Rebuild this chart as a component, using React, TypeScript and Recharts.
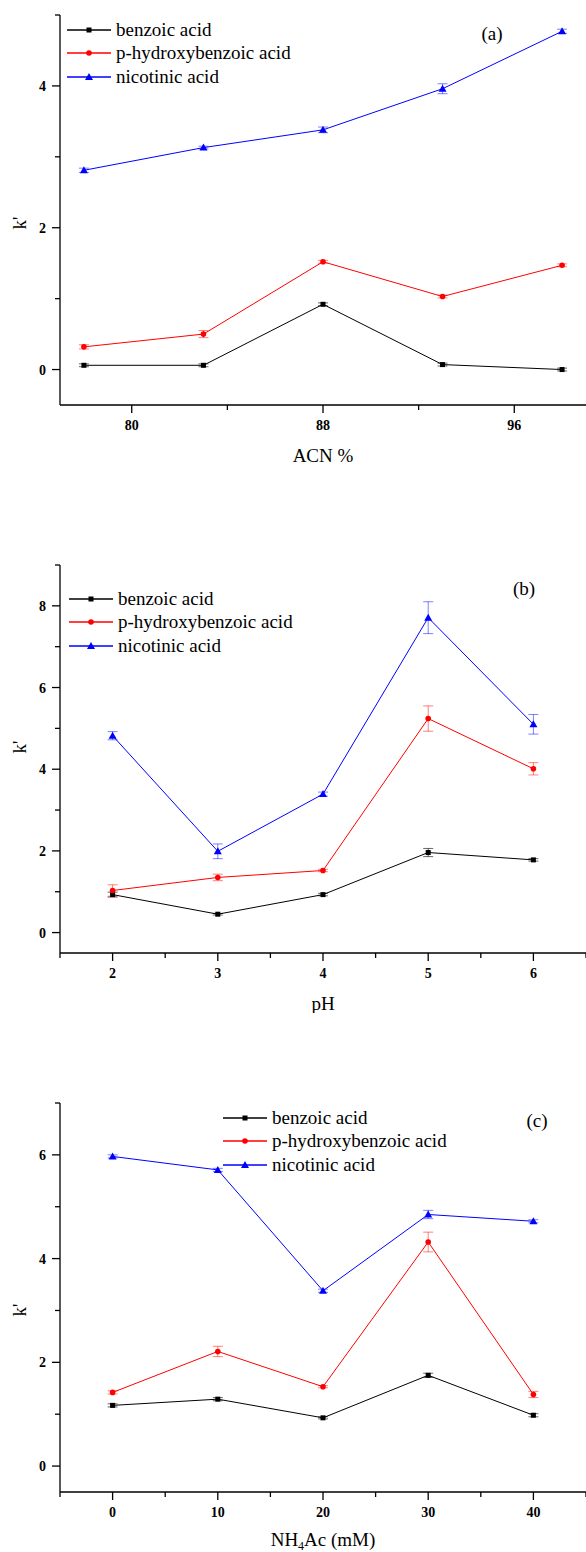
import React from "react";
import { LineChart, Line, XAxis, YAxis, ErrorBar, Legend } from "recharts";

const FONT = "Liberation Serif, Times New Roman, Times, DejaVu Serif, serif";

const SERIES_NAMES = ["benzoic acid", "p-hydroxybenzoic acid", "nicotinic acid"];
const SERIES_COLORS = ["#000000", "#ff0000", "#0000ff"];
const ERR_COLORS = ["rgba(0,0,0,0.6)", "rgba(255,0,0,0.5)", "rgba(0,0,255,0.5)"];
const SERIES_SHAPES = ["square", "circle", "triangle"];

// (a) ACN %
const acn = [78, 83, 88, 93, 98];
const acnBenzoic = [0.06, 0.06, 0.92, 0.07, 0.0];
const acnBenzoicErr = [0.02, 0.02, 0.02, 0.02, 0.02];
const acnHydroxy = [0.32, 0.5, 1.52, 1.03, 1.47];
const acnHydroxyErr = [0.03, 0.05, 0.02, 0.02, 0.02];
const acnNicotinic = [2.81, 3.13, 3.38, 3.96, 4.77];
const acnNicotinicErr = [0.03, 0.02, 0.04, 0.07, 0.03];

// (b) pH
const ph = [2, 3, 4, 5, 6];
const phBenzoic = [0.93, 0.45, 0.93, 1.96, 1.78];
const phBenzoicErr = [0.06, 0.02, 0.03, 0.1, 0.03];
const phHydroxy = [1.03, 1.35, 1.52, 5.24, 4.01];
const phHydroxyErr = [0.14, 0.08, 0.03, 0.31, 0.15];
const phNicotinic = [4.82, 1.99, 3.39, 7.71, 5.1];
const phNicotinicErr = [0.1, 0.18, 0.05, 0.39, 0.24];

// (c) NH4Ac (mM)
const nh4ac = [0, 10, 20, 30, 40];
const nhBenzoic = [1.17, 1.29, 0.93, 1.75, 0.98];
const nhBenzoicErr = [0.03, 0.03, 0.02, 0.04, 0.03];
const nhHydroxy = [1.42, 2.21, 1.53, 4.32, 1.38];
const nhHydroxyErr = [0.03, 0.1, 0.02, 0.19, 0.06];
const nhNicotinic = [5.97, 5.71, 3.38, 4.85, 4.72];
const nhNicotinicErr = [0.03, 0.03, 0.03, 0.08, 0.03];

// axis ticks
const acnTicks = [80, 84, 88, 92, 96];
const acnMajor = [80, 88, 96];
const acnYTicks = [0, 1, 2, 3, 4, 5];
const acnYMajor = [0, 2, 4];

const phTicks = [1.5, 2, 2.5, 3, 3.5, 4, 4.5, 5, 5.5, 6, 6.5];
const phMajor = [2, 3, 4, 5, 6];
const phYTicks = [0, 1, 2, 3, 4, 5, 6, 7, 8, 9];
const phYMajor = [0, 2, 4, 6, 8];

const nhTicks = [-5, 0, 5, 10, 15, 20, 25, 30, 35, 40, 45];
const nhMajor = [0, 10, 20, 30, 40];
const nhYTicks = [0, 1, 2, 3, 4, 5, 6, 7];
const nhYMajor = [0, 2, 4, 6];

function buildRows(xs, b, be, h, he, n, ne) {
  return xs.map((x, i) => ({
    x,
    s0: b[i], s0e: be[i],
    s1: h[i], s1e: he[i],
    s2: n[i], s2e: ne[i],
  }));
}

const acnRows = buildRows(acn, acnBenzoic, acnBenzoicErr, acnHydroxy, acnHydroxyErr, acnNicotinic, acnNicotinicErr);
const phRows = buildRows(ph, phBenzoic, phBenzoicErr, phHydroxy, phHydroxyErr, phNicotinic, phNicotinicErr);
const nhRows = buildRows(nh4ac, nhBenzoic, nhBenzoicErr, nhHydroxy, nhHydroxyErr, nhNicotinic, nhNicotinicErr);

function Marker({ shape, cx, cy, color }) {
  if (shape === "square") {
    return <rect x={cx - 2.5} y={cy - 2.5} width={5} height={5} fill={color} />;
  }
  if (shape === "circle") {
    return <circle cx={cx} cy={cy} r={2.8} fill={color} />;
  }
  return (
    <polygon
      points={`${cx},${cy - 4} ${cx - 4},${cy + 3} ${cx + 4},${cy + 3}`}
      fill={color}
    />
  );
}

const renderLegend = () => (
  <div style={{ fontFamily: FONT, fontSize: 19, color: "#000" }}>
    {SERIES_NAMES.map((name, i) => (
      <div
        key={name}
        style={{ display: "flex", alignItems: "center", height: 23.5, whiteSpace: "nowrap" }}
      >
        <svg width={44} height={12} style={{ display: "block" }}>
          <line x1={0} x2={44} y1={6} y2={6} stroke={SERIES_COLORS[i]} strokeWidth={1.3} />
          <Marker shape={SERIES_SHAPES[i]} cx={22} cy={6} color={SERIES_COLORS[i]} />
        </svg>
        <span style={{ marginLeft: 5, fontFamily: FONT }}>{name}</span>
      </div>
    ))}
  </div>
);

function Panel({
  top, height, marginTop, rows, xDomain, xTicks, xMajor, yDomain, yTicks, yMajor,
  xTitle, titleDy, kY, tag, tagX, tagY, legendLeft, legendTop,
}) {
  const xTick = (p) => {
    const major = xMajor.includes(p.payload.value);
    return (
      <g>
        <line x1={p.x} x2={p.x} y1={p.y} y2={p.y + (major ? 8 : 5)} stroke="#000" strokeWidth={1.3} />
        {major && (
          <text x={p.x} y={p.y + 25} textAnchor="middle" fontFamily={FONT} fontWeight="bold" fontSize={14} fill="#000">
            {p.payload.value}
          </text>
        )}
      </g>
    );
  };
  const yTick = (p) => {
    const major = yMajor.includes(p.payload.value);
    return (
      <g>
        <line x1={p.x - (major ? 8 : 5)} x2={p.x} y1={p.y} y2={p.y} stroke="#000" strokeWidth={1.3} />
        {major && (
          <text x={p.x - 14} y={p.y + 5} textAnchor="end" fontFamily={FONT} fontWeight="bold" fontSize={14} fill="#000">
            {p.payload.value}
          </text>
        )}
      </g>
    );
  };
  const axisBottom = height - 60;

  return (
    <div style={{ position: "absolute", left: 0, top, width: 586, height }}>
      <LineChart
        width={586}
        height={height}
        data={rows}
        margin={{ top: marginTop, right: 0, bottom: 0, left: 0 }}
      >
        <XAxis
          dataKey="x"
          type="number"
          domain={xDomain}
          ticks={xTicks}
          interval={0}
          height={60}
          tickSize={0}
          tickMargin={0}
          tick={xTick}
          axisLine={{ stroke: "#000", strokeWidth: 1.3 }}
          allowDataOverflow
          label={() => (
            <text x={323} y={axisBottom + titleDy} textAnchor="middle" fontFamily={FONT} fontSize={19} fill="#000">
              {xTitle}
            </text>
          )}
        />
        <YAxis
          type="number"
          domain={yDomain}
          ticks={yTicks}
          interval={0}
          width={60}
          tickSize={0}
          tickMargin={0}
          tick={yTick}
          axisLine={{ stroke: "#000", strokeWidth: 1.3 }}
          allowDataOverflow
          label={() => (
            <text
              x={19}
              y={kY}
              transform={`rotate(-90 19 ${kY})`}
              textAnchor="middle"
              dominantBaseline="central"
              fontFamily={FONT}
              fontSize={19}
              fill="#000"
            >
              k'
            </text>
          )}
        />
        <Legend
          layout="vertical"
          align="center"
          verticalAlign="middle"
          content={renderLegend}
          wrapperStyle={{ left: legendLeft, top: legendTop, width: "auto", margin: 0, padding: 0 }}
        />
        {SERIES_NAMES.map((name, i) => (
          <Line
            key={name}
            name={name}
            dataKey={`s${i}`}
            type="linear"
            stroke={SERIES_COLORS[i]}
            strokeWidth={1}
            isAnimationActive={false}
            dot={(p) => (
              <Marker key={`${name}-${p.index}`} shape={SERIES_SHAPES[i]} cx={p.cx} cy={p.cy} color={SERIES_COLORS[i]} />
            )}
            activeDot={false}
          >
            <ErrorBar
              dataKey={`s${i}e`}
              width={5}
              stroke={ERR_COLORS[i]}
              strokeWidth={1}
              isAnimationActive={false}
            />
          </Line>
        ))}
      </LineChart>
      <div
        style={{
          position: "absolute",
          left: tagX,
          top: tagY,
          transform: "translate(-50%, -50%)",
          fontFamily: FONT,
          fontSize: 19,
          lineHeight: 1,
          color: "#000",
        }}
      >
        {tag}
      </div>
    </div>
  );
}

export default function App() {
  return (
    <div
      style={{
        position: "absolute",
        left: 0,
        top: 0,
        width: 586,
        height: 1552,
        background: "#fff",
        overflow: "hidden",
      }}
    >
      <Panel
        top={0}
        height={465}
        marginTop={15}
        rows={acnRows}
        xDomain={[77, 99]}
        xTicks={acnTicks}
        xMajor={acnMajor}
        yDomain={[-0.5, 5]}
        yTicks={acnYTicks}
        yMajor={acnYMajor}
        xTitle="ACN %"
        titleDy={57}
        kY={223}
        tag="(a)"
        tagX={492}
        tagY={33}
        legendLeft={67}
        legendTop={18}
      />
      <Panel
        top={540}
        height={473}
        marginTop={25}
        rows={phRows}
        xDomain={[1.5, 6.5]}
        xTicks={phTicks}
        xMajor={phMajor}
        yDomain={[-0.5, 9]}
        yTicks={phYTicks}
        yMajor={phYMajor}
        xTitle="pH"
        titleDy={57}
        kY={207}
        tag="(b)"
        tagX={524}
        tagY={48}
        legendLeft={69}
        legendTop={47}
      />
      <Panel
        top={1080}
        height={472}
        marginTop={23}
        rows={nhRows}
        xDomain={[-5, 45]}
        xTicks={nhTicks}
        xMajor={nhMajor}
        yDomain={[-0.5, 7]}
        yTicks={nhYTicks}
        yMajor={nhYMajor}
        xTitle={
          <>
            <tspan>NH</tspan>
            <tspan fontSize={12} dy={4}>4</tspan>
            <tspan dy={-4}>Ac (mM)</tspan>
          </>
        }
        titleDy={54}
        kY={230}
        tag="(c)"
        tagX={537}
        tagY={40}
        legendLeft={223}
        legendTop={26}
      />
    </div>
  );
}
